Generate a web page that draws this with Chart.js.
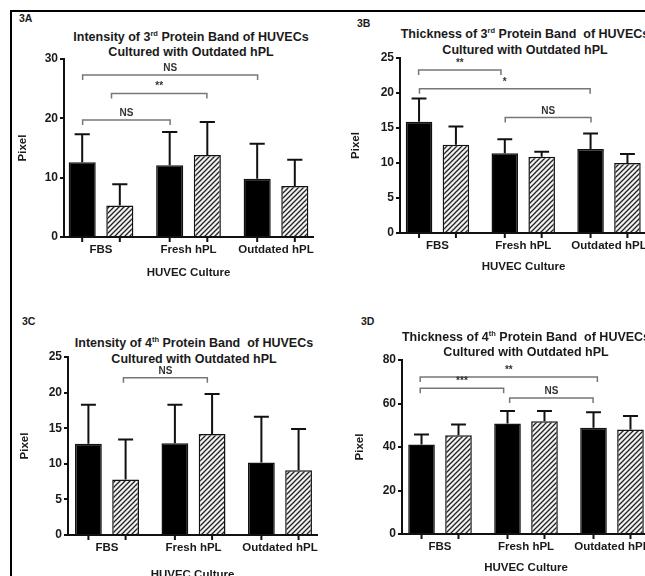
<!doctype html>
<html lang="en">
<head>
<meta charset="utf-8">
<title>HUVEC protein bands</title>
<script src="https://cdn.jsdelivr.net/npm/chart.js@4.4.0/dist/chart.umd.min.js"></script>
<style>
  body { margin: 0; width: 645px; height: 576px; overflow: hidden; background: #fff; position: relative;
         font-family: "Liberation Sans", Arial, sans-serif; color: #1a1a1a; }
  .frame { position: absolute; left: 10px; top: 10px; width: 700px; height: 600px;
           border-top: 2px solid #000; border-left: 2px solid #000; }
  .tag { position: absolute; font-weight: bold; font-size: 10.5px; line-height: 13px; }
  .title { position: absolute; width: 400px; text-align: center; font-weight: bold; font-size: 12.5px;
           line-height: 15.5px; white-space: nowrap; }
  .title sup { font-size: 0.6em; line-height: 0; }
  canvas { position: absolute; }
</style>
</head>
<body>
<div class="frame"></div>

<div class="tag" style="left:19px; top:12px">3A</div>
<div class="title" style="left:-9px; top:29.5px">Intensity of 3<sup>rd</sup> Protein Band of HUVECs<br>Cultured with Outdated hPL</div>
<canvas id="chartA" width="311" height="241" style="left:12px; top:39px"></canvas>

<div class="tag" style="left:357px; top:17px">3B</div>
<div class="title" style="left:325px; top:27px">Thickness of 3<sup>rd</sup> Protein Band&nbsp; of HUVECs<br>Cultured with Outdated hPL</div>
<canvas id="chartB" width="312" height="236" style="left:345px; top:38px"></canvas>

<div class="tag" style="left:22px; top:315px">3C</div>
<div class="title" style="left:-6px; top:336px">Intensity of 4<sup>th</sup> Protein Band&nbsp; of HUVECs<br>Cultured with Outdated hPL</div>
<canvas id="chartC" width="313" height="245" style="left:14px; top:337px"></canvas>

<div class="tag" style="left:361px; top:315px">3D</div>
<div class="title" style="left:326px; top:329.5px">Thickness of 4<sup>th</sup> Protein Band&nbsp; of HUVECs<br>Cultured with Outdated hPL</div>
<canvas id="chartD" width="311" height="235" style="left:349px; top:340px"></canvas>

<script>
const categories = ['FBS', 'Fresh hPL', 'Outdated hPL'];

// 3A - intensity of 3rd band
const aSolid = [12.6, 12.1, 9.8];
const aSolidSd = [4.7, 5.6, 5.9];
const aHatched = [5.3, 13.8, 8.6];
const aHatchedSd = [3.6, 5.6, 4.4];
const aYTicks = [0, 10, 20, 30];
const aBrackets = [[-0.21, 1.79, 27.3, 'NS'], [0.12, 1.21, 24.2, '**'], [-0.21, 0.79, 19.7, 'NS']];

// 3B - thickness of 3rd band
const bSolid = [15.9, 11.4, 12.0];
const bSolidSd = [3.3, 2.0, 2.2];
const bHatched = [12.6, 10.9, 10.0];
const bHatchedSd = [2.6, 0.7, 1.3];
const bYTicks = [0, 5, 10, 15, 20, 25];
const bBrackets = [[-0.22, 0.74, 23.3, '**'], [-0.21, 1.78, 20.6, '*'], [0.79, 1.79, 16.5, 'NS']];

// 3C - intensity of 4th band
const cSolid = [12.8, 12.9, 10.2];
const cSolidSd = [5.5, 5.4, 6.4];
const cHatched = [7.8, 14.2, 9.1];
const cHatchedSd = [5.6, 5.6, 5.8];
const cYTicks = [0, 5, 10, 15, 20, 25];
const cBrackets = [[0.19, 1.16, 22.1, 'NS']];

// 3D - thickness of 4th band
const dSolid = [41.2, 50.8, 48.9];
const dSolidSd = [4.6, 5.8, 7.1];
const dHatched = [45.4, 51.8, 48.0];
const dHatchedSd = [5.0, 4.8, 6.3];
const dYTicks = [0, 20, 40, 60, 80];
const dBrackets = [[-0.23, 1.83, 72.2, '**'], [-0.23, 0.74, 67, '***'], [0.81, 1.78, 62.5, 'NS']];

Chart.defaults.font.family = '"Liberation Sans", Arial, sans-serif';
Chart.defaults.font.weight = 'bold';
Chart.defaults.color = '#1a1a1a';

function hatch() {
  const c = document.createElement('canvas');
  c.width = 5; c.height = 5;
  const g = c.getContext('2d');
  g.fillStyle = '#f2f2f2';
  g.fillRect(0, 0, 5, 5);
  g.strokeStyle = '#222';
  g.lineWidth = 1.3;
  g.beginPath();
  g.moveTo(-1, 6); g.lineTo(6, -1);
  g.moveTo(-3, 3); g.lineTo(3, -3);
  g.moveTo(2, 8); g.lineTo(8, 2);
  g.stroke();
  return g.createPattern(c, 'repeat');
}

// error bars, x tick marks under bars, significance brackets
const decor = {
  id: 'decor',
  afterDatasetsDraw(chart, args, opts) {
    const ctx = chart.ctx;
    const xs = chart.scales.x, ys = chart.scales.y;
    ctx.save();
    ctx.strokeStyle = '#111';
    ctx.lineWidth = 2;
    chart.data.datasets.forEach((ds, di) => {
      chart.getDatasetMeta(di).data.forEach((bar, i) => {
        const top = ys.getPixelForValue(ds.data[i] + opts.sd[di][i]);
        const half = bar.width * 0.28;
        ctx.beginPath();
        ctx.moveTo(bar.x, bar.y);
        ctx.lineTo(bar.x, top);
        ctx.moveTo(bar.x - half, top);
        ctx.lineTo(bar.x + half, top);
        ctx.moveTo(bar.x, ys.bottom);
        ctx.lineTo(bar.x, ys.bottom + 5);
        ctx.stroke();
      });
    });
    ctx.lineWidth = 1.5;
    ctx.font = 'bold 10px "Liberation Sans", Arial, sans-serif';
    ctx.textAlign = 'center';
    opts.brackets.forEach(([from, to, yv, label]) => {
      const x1 = xs.getPixelForValue(from), x2 = xs.getPixelForValue(to), y = ys.getPixelForValue(yv);
      ctx.strokeStyle = '#777';
      ctx.beginPath();
      ctx.moveTo(x1, y + 5);
      ctx.lineTo(x1, y);
      ctx.lineTo(x2, y);
      ctx.lineTo(x2, y + 5);
      ctx.stroke();
      ctx.fillStyle = '#333';
      ctx.fillText(label, (x1 + x2) / 2, y - 4);
    });
    ctx.restore();
  }
};

function drawPanel(id, solid, solidSd, hatched, hatchedSd, yTicks, brackets, box) {
  const font = { size: 11.5, weight: 'bold' };
  new Chart(document.getElementById(id), {
    type: 'bar',
    data: {
      labels: categories.map((c, i) => i),
      datasets: [
        { label: 'solid', data: solid, backgroundColor: '#000', borderColor: '#111', borderWidth: 1.5 },
        { label: 'hatched', data: hatched, backgroundColor: hatch(), borderColor: '#111', borderWidth: 1.5 }
      ]
    },
    options: {
      responsive: false,
      animation: false,
      layout: { padding: { left: 4, right: 10, top: 20, bottom: 0 } },
      categoryPercentage: 0.86,
      barPercentage: 0.72,
      plugins: {
        legend: { display: false },
        tooltip: { enabled: false },
        decor: { sd: [solidSd, hatchedSd], brackets: brackets }
      },
      scales: {
        x: {
          type: 'linear', offset: false, min: box.xMin, max: box.xMax,
          afterBuildTicks: s => { s.ticks = categories.map((c, i) => ({ value: i })); },
          afterFit: s => { s.height = box.xH; },
          ticks: { callback: v => categories[v], padding: 6, font: font, autoSkip: false, maxRotation: 0 },
          grid: { display: false, drawTicks: false },
          border: { color: '#111', width: 2 },
          title: { display: true, text: 'HUVEC Culture', padding: 0, font: font }
        },
        y: {
          min: yTicks[0], max: yTicks[yTicks.length - 1],
          afterFit: s => { s.width = box.yW; },
          ticks: { stepSize: yTicks[1] - yTicks[0], padding: 2, font: { size: 12, weight: 'bold' } },
          grid: { drawOnChartArea: false, drawTicks: true, tickLength: 4, color: '#111', lineWidth: 2 },
          border: { color: '#111', width: 2 },
          title: { display: true, text: 'Pixel', padding: 0, font: font }
        }
      }
    },
    plugins: [decor]
  });
}

drawPanel('chartA', aSolid, aSolidSd, aHatched, aHatchedSd, aYTicks, aBrackets, { xMin: -0.423, xMax: 2.423, yW: 48, xH: 43 });
drawPanel('chartB', bSolid, bSolidSd, bHatched, bHatchedSd, bYTicks, bBrackets, { xMin: -0.437, xMax: 2.443, yW: 51, xH: 41 });
drawPanel('chartC', cSolid, cSolidSd, cHatched, cHatchedSd, cYTicks, cBrackets, { xMin: -0.451, xMax: 2.428, yW: 50, xH: 47 });
drawPanel('chartD', dSolid, dSolidSd, dHatched, dHatchedSd, dYTicks, dBrackets, { xMin: -0.442, xMax: 2.442, yW: 49, xH: 41 });
</script>
</body>
</html>
